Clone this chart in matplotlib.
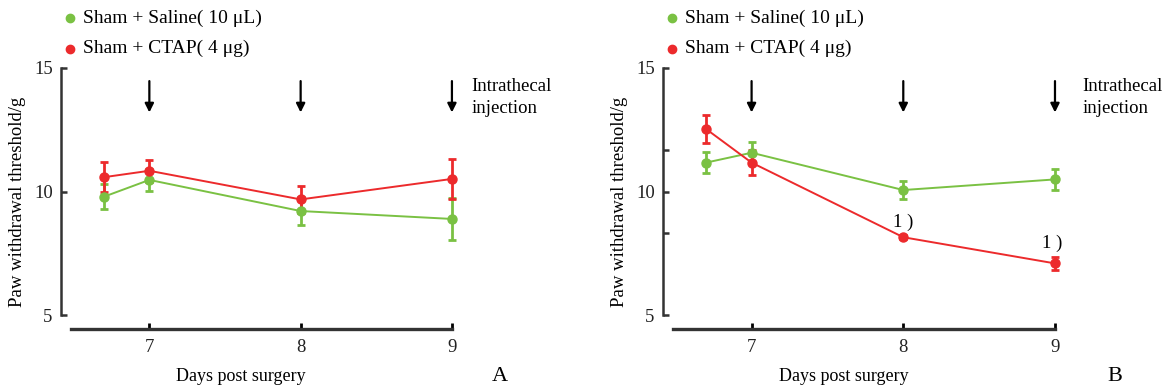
import matplotlib
matplotlib.use('Agg')
import matplotlib.pyplot as plt

plt.rcParams['font.family'] = ['Liberation Serif', 'DejaVu Serif']

# data
days = [6.7, 7, 8, 9]
day_ticks = [7, 8, 9]
labels = ['Sham + Saline( 10 μL)', 'Sham + CTAP( 4 μg)']

saline_a = [9.79, 10.47, 9.21, 8.89]
saline_a_err = [0.51, 0.43, 0.58, 0.85]
ctap_a = [10.58, 10.84, 9.68, 10.51]
ctap_a_err = [0.61, 0.45, 0.55, 0.80]

saline_b = [11.17, 11.57, 10.06, 10.49]
saline_b_err = [0.43, 0.45, 0.35, 0.43]
ctap_b = [12.53, 11.17, 8.15, 7.09]
ctap_b_err = [0.55, 0.50, 0.08, 0.27]

# significance marks in panel B: (day, y)
sig_b = [(8, 8.77), (8.98, 7.91)]

GREEN = '#7ac143'
RED = '#ec2a2c'
AXC = '#333333'


def draw_panel(ax, saline, saline_err, ctap, ctap_err, letter, letter_x, yminor,
               text_x, sig=None):
    for vals, errs, col in [(saline, saline_err, GREEN), (ctap, ctap_err, RED)]:
        ax.errorbar(days, vals, yerr=errs, color=col, marker='o', ms=6.5, lw=1.4,
                    elinewidth=2, capsize=3.2, capthick=2)

    ax.set_xlim(6.416, 9.6)
    ax.set_ylim(4.2, 15)

    for s in ['top', 'right']:
        ax.spines[s].set_visible(False)
    ax.spines['left'].set_bounds(5, 15)
    ax.spines['left'].set_color(AXC)
    ax.spines['left'].set_linewidth(1.8)
    ax.spines['bottom'].set_position(('data', 4.43))
    ax.spines['bottom'].set_bounds(6.48, 9.0)
    ax.spines['bottom'].set_color(AXC)
    ax.spines['bottom'].set_linewidth(2.4)

    ax.set_yticks([5, 10, 15])
    ax.set_yticks(yminor, minor=True)
    ax.set_xticks(day_ticks)
    ax.tick_params(axis='y', which='both', direction='in', length=4, width=1.8,
                   color=AXC, pad=6, labelsize=13.5, labelcolor='#222222')
    ax.tick_params(axis='x', direction='in', length=4, width=2, color='black',
                   pad=7, labelsize=13.5, labelcolor='#222222')

    ax.set_ylabel('Paw withdrawal threshold/g', fontsize=13.5)
    ax.yaxis.set_label_coords(-0.073, 0.5)
    ax.set_xlabel('Days post surgery', fontsize=13)
    ax.xaxis.set_label_coords(0.374, -0.125)

    # injection arrows
    for d in day_ticks:
        ax.annotate('', xy=(d, 13.2), xytext=(d, 14.47),
                    arrowprops=dict(arrowstyle='-|>', color='black', lw=1.6,
                                    mutation_scale=13, shrinkA=0, shrinkB=0))
    ax.text(text_x, 13.8, 'Intrathecal\ninjection', fontsize=13.5, va='center',
            ha='left', linespacing=1.4)

    if sig:
        for sx, sy in sig:
            ax.text(sx, sy, '1 )', fontsize=13.5, ha='center', va='center')

    ax.text(letter_x, -0.155, letter, transform=ax.transAxes, fontsize=16,
            ha='center', va='center')

    # legend drawn above the axes
    for i, (lab, col) in enumerate(zip(labels, [GREEN, RED])):
        yy = 1.186 - i * 0.113
        ax.plot([0.018], [yy], 'o', color=col, ms=6, transform=ax.transAxes,
                clip_on=False)
        ax.text(0.046, yy, lab, transform=ax.transAxes, fontsize=14,
                va='center', ha='left')


fig = plt.figure(figsize=(11.64, 3.91), dpi=100)
ax_a = fig.add_axes([61 / 1164, 56.2 / 391, 481.7 / 1164, 266.8 / 391])
ax_b = fig.add_axes([663 / 1164, 56.2 / 391, 483 / 1164, 266.8 / 391])

draw_panel(ax_a, saline_a, saline_a_err, ctap_a, ctap_a_err, 'A', 0.91, [10], 9.13)
draw_panel(ax_b, saline_b, saline_b_err, ctap_b, ctap_b_err, 'B', 0.936,
           [5 + 10 / 3, 5 + 20 / 3], 9.18, sig_b)

fig.savefig('out.png', dpi=100)
